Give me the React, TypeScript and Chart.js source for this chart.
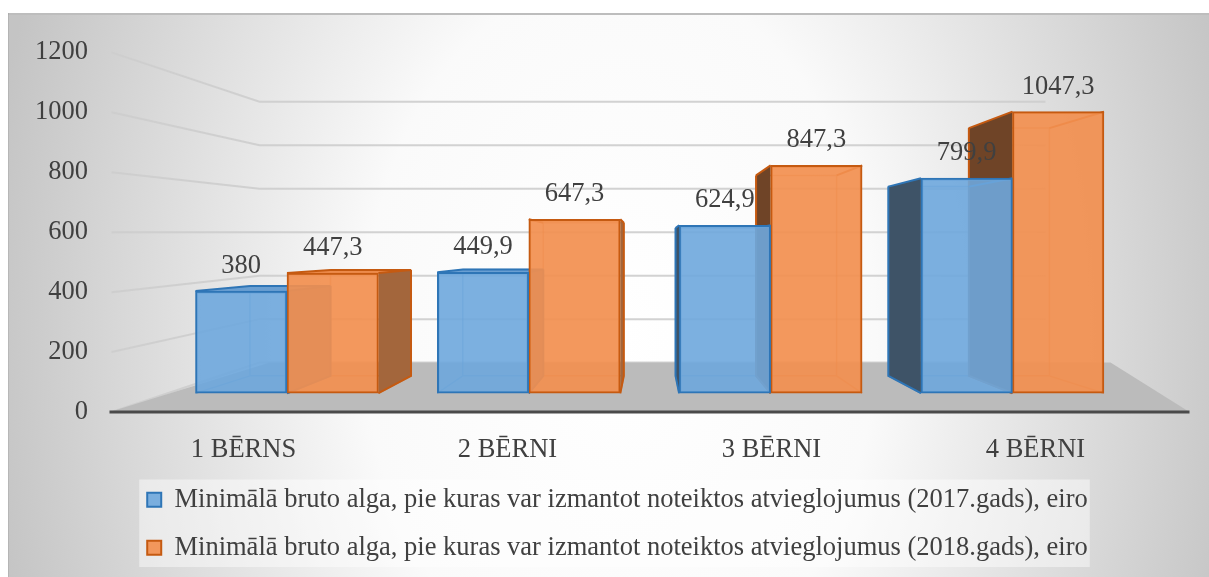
import React, { useEffect, useRef } from "react";
import { Chart, registerables } from "chart.js";

Chart.register(...registerables);

// ---------- data ----------
const categories = ["1 BĒRNS", "2 BĒRNI", "3 BĒRNI", "4 BĒRNI"];
const values2017 = [380, 449.9, 624.9, 799.9];
const values2018 = [447.3, 647.3, 847.3, 1047.3];
const seriesNames = [
  "Minimālā bruto alga, pie kuras var izmantot noteiktos atvieglojumus (2017.gads), eiro",
  "Minimālā bruto alga, pie kuras var izmantot noteiktos atvieglojumus (2018.gads), eiro",
];
const yTickValues = [0, 200, 400, 600, 800, 1000, 1200];

// ---------- styles ----------
const FONT = "'Liberation Serif', 'Times New Roman', serif";
const FS = 26.5;
const TEXT = "#404040";
const FRONT = ["rgba(110,167,221,0.9)", "rgba(242,143,79,0.92)"];
const BORDER = ["#2e75b6", "#c55a11"];
const EDGE = ["rgba(46,117,182,0.45)", "rgba(197,90,17,0.45)"];
const LEFT_FACE = ["#3e5367", "#6f4427"];
const RIGHT_FACE = ["#4f7fae", "#a3663c"];
const TOP_FACE = ["#6a9fd2", "#ec8b4b"];
const DEPTH = 0.12;

const fmt = (v: number) => String(v).replace(".", ",");

const decor = {
  id: "decor",
  beforeDraw(chart: any) {
    const { ctx, width, height } = chart;
    ctx.save();
    const cx = 612, cy = 320, sy = 1.4;
    ctx.translate(cx, cy);
    ctx.scale(1, sy);
    const g = ctx.createRadialGradient(0, 0, 0, 0, 0, 640);
    g.addColorStop(0, "#ffffff");
    g.addColorStop(0.4, "#fafafa");
    g.addColorStop(1, "#c4c4c4");
    ctx.fillStyle = g;
    ctx.fillRect(-cx, -cy / sy, width, height / sy);
    ctx.restore();

    ctx.save();
    ctx.strokeStyle = "#bdbdbd";
    ctx.lineWidth = 2;
    ctx.beginPath();
    ctx.moveTo(0, 1);
    ctx.lineTo(width, 1);
    ctx.stroke();
    ctx.strokeStyle = "rgba(0,0,0,0.08)";
    ctx.lineWidth = 1;
    ctx.beginPath();
    ctx.moveTo(0.5, 0);
    ctx.lineTo(0.5, height);
    ctx.stroke();

    const lg = chart.legend;
    if (lg && lg.legendHitBoxes && lg.legendHitBoxes.length) {
      const hb = lg.legendHitBoxes;
      const l = Math.min(...hb.map((h: any) => h.left)) - 8;
      const r = Math.max(...hb.map((h: any) => h.left + h.width)) + 2;
      const t = hb[0].top - 7;
      const last = hb[hb.length - 1];
      const b = last.top + last.height + 6;
      ctx.fillStyle = "rgba(255,255,255,0.45)";
      ctx.fillRect(l, t, r - l, b - t);
    }
    ctx.restore();
  },
  beforeDatasetsDraw(chart: any) {
    const { ctx, chartArea: ca, scales } = chart;
    const y = scales.y;
    const yw = scales.yw;
    const bendX = ca.left + 148;
    const wallR = ca.right - 122;
    ctx.save();
    // walls grid
    ctx.strokeStyle = "rgba(205,205,205,0.9)";
    ctx.lineWidth = 2;
    yTickValues.forEach((v) => {
      ctx.beginPath();
      ctx.moveTo(ca.left, y.getPixelForValue(v));
      ctx.lineTo(bendX, yw.getPixelForValue(v));
      ctx.lineTo(wallR, yw.getPixelForValue(v));
      ctx.stroke();
    });
    // floor
    const y0 = y.getPixelForValue(0);
    const yb0 = yw.getPixelForValue(0);
    ctx.fillStyle = "#bbbbbb";
    ctx.beginPath();
    ctx.moveTo(ca.left - 2, y0);
    ctx.lineTo(ca.left + 158, yb0);
    ctx.lineTo(ca.right - 57, yb0);
    ctx.lineTo(ca.right + 22, y0);
    ctx.closePath();
    ctx.fill();

    // 3D depth of bars
    const vx = (ca.left + ca.right) / 2 + 10;
    const vy = ca.top + 196;
    const back = (px: number, py: number) => [px + DEPTH * (vx - px), py + DEPTH * (vy - py)];
    const poly = (pts: number[][], fill: string) => {
      ctx.beginPath();
      ctx.moveTo(pts[0][0], pts[0][1]);
      for (let i = 1; i < pts.length; i++) ctx.lineTo(pts[i][0], pts[i][1]);
      ctx.closePath();
      ctx.fillStyle = fill;
      ctx.fill();
    };
    const dsCount = chart.data.datasets.length;
    for (let d = dsCount - 1; d >= 0; d--) {
      const meta = chart.getDatasetMeta(d);
      meta.data.forEach((el: any) => {
        const p = el.getProps(["x", "y", "base", "width"], true);
        const x1 = p.x - p.width / 2, x2 = p.x + p.width / 2;
        const yt = p.y, yb = p.base;
        const A = back(x1, yt), B = back(x2, yt), C = back(x2, yb), D = back(x1, yb);
        // back edges
        ctx.strokeStyle = EDGE[d];
        ctx.lineWidth = 1.5;
        ctx.beginPath();
        ctx.moveTo(A[0], A[1]); ctx.lineTo(B[0], B[1]); ctx.lineTo(C[0], C[1]); ctx.lineTo(D[0], D[1]); ctx.closePath();
        ctx.moveTo(x1, yb); ctx.lineTo(D[0], D[1]);
        ctx.moveTo(x2, yb); ctx.lineTo(C[0], C[1]);
        ctx.stroke();
        if (x2 < vx) {
          poly([[x2, yt], B, C, [x2, yb]], RIGHT_FACE[d]);
        } else if (x1 > vx) {
          poly([[x1, yt], A, D, [x1, yb]], LEFT_FACE[d]);
        }
        if (yt > vy) {
          poly([[x1, yt], [x2, yt], B, A], TOP_FACE[d]);
        }
        ctx.strokeStyle = BORDER[d];
        ctx.lineWidth = 2;
        ctx.beginPath();
        ctx.moveTo(x1, yt); ctx.lineTo(A[0], A[1]);
        ctx.moveTo(x2, yt); ctx.lineTo(B[0], B[1]);
        if (yt > vy) { ctx.moveTo(A[0], A[1]); ctx.lineTo(B[0], B[1]); }
        if (x2 < vx) { ctx.moveTo(B[0], B[1]); ctx.lineTo(C[0], C[1]); ctx.lineTo(x2, yb); }
        if (x1 > vx) { ctx.moveTo(A[0], A[1]); ctx.lineTo(D[0], D[1]); ctx.lineTo(x1, yb); }
        ctx.stroke();
      });
    }
    ctx.restore();
  },
  afterDatasetsDraw(chart: any) {
    const { ctx, chartArea: ca, scales } = chart;
    const y0 = scales.y.getPixelForValue(0);
    ctx.save();
    ctx.strokeStyle = "#4a4a4a";
    ctx.lineWidth = 3;
    ctx.beginPath();
    ctx.moveTo(ca.left - 2, y0);
    ctx.lineTo(ca.right + 22, y0);
    ctx.stroke();

    ctx.fillStyle = TEXT;
    ctx.font = `${FS}px ${FONT}`;
    ctx.textAlign = "center";
    ctx.textBaseline = "middle";
    chart.data.datasets.forEach((ds: any, d: number) => {
      const meta = chart.getDatasetMeta(d);
      meta.data.forEach((el: any, j: number) => {
        ctx.fillText(fmt(ds.data[j].y), el.x, el.y - 25);
      });
    });
    ctx.restore();
  },
};

export default function App() {
  const ref = useRef<HTMLCanvasElement | null>(null);
  useEffect(() => {
    if (!ref.current) return;
    const chart = new Chart(ref.current, {
      type: "bar",
      data: {
        labels: categories,
        datasets: [
          {
            label: seriesNames[0],
            data: values2017.map((v, i) => ({ x: i, y: v })) as any,
            backgroundColor: FRONT[0],
            borderColor: BORDER[0],
            borderWidth: 2,
            borderSkipped: false,
            xAxisID: "xb",
            yAxisID: "yb",
          },
          {
            label: seriesNames[1],
            data: values2018.map((v, i) => ({ x: i, y: v })) as any,
            backgroundColor: FRONT[1],
            borderColor: BORDER[1],
            borderWidth: 2,
            borderSkipped: false,
            xAxisID: "xb",
            yAxisID: "yb",
          },
        ],
      },
      options: {
        responsive: false,
        animation: false,
        barThickness: 91.5,
        layout: { padding: { left: 20, right: 2, top: 35, bottom: 6 } },
        plugins: {
          tooltip: { enabled: false },
          legend: {
            position: "bottom",
            labels: {
              font: { family: FONT, size: FS },
              color: TEXT,
              boxWidth: 14,
              boxHeight: 14,
              padding: 21.5,
            },
          },
        },
        scales: {
          x: {
            type: "category",
            labels: categories,
            offset: true,
            grid: { display: false },
            border: { display: false },
            ticks: { font: { family: FONT, size: FS }, color: TEXT, padding: 14 },
            afterFit: (s: any) => { s.height = 53; },
          },
          xb: {
            type: "linear",
            display: false,
            offset: false,
            grid: { offset: false },
            min: -0.7257,
            max: 3.6413,
            ticks: { stepSize: 1, includeBounds: false },
          },
          y: {
            type: "linear",
            position: "left",
            min: 0,
            max: 1200,
            ticks: {
              stepSize: 200,
              font: { family: FONT, size: FS },
              color: TEXT,
              padding: 23.5,
              callback: (v: any) => String(v),
            },
            grid: { display: false, drawTicks: false },
            border: { display: false },
            afterFit: (s: any) => { s.width = 83.5; },
          },
          yb: {
            type: "linear",
            display: false,
            min: -69.8,
            max: 1267.8,
          },
          yw: {
            type: "linear",
            position: "right",
            display: true,
            min: -227.3,
            max: 1427.3,
            ticks: { display: false },
            grid: { display: false, drawTicks: false },
            border: { display: false },
            afterFit: (s: any) => { s.width = 39.5; },
          },
        },
      } as any,
      plugins: [decor],
    });
    return () => chart.destroy();
  }, []);
  return (
    <div style={{ position: "absolute", left: 8, top: 13, width: 1201, height: 564 }}>
      <canvas ref={ref} width={1201} height={564} />
    </div>
  );
}
